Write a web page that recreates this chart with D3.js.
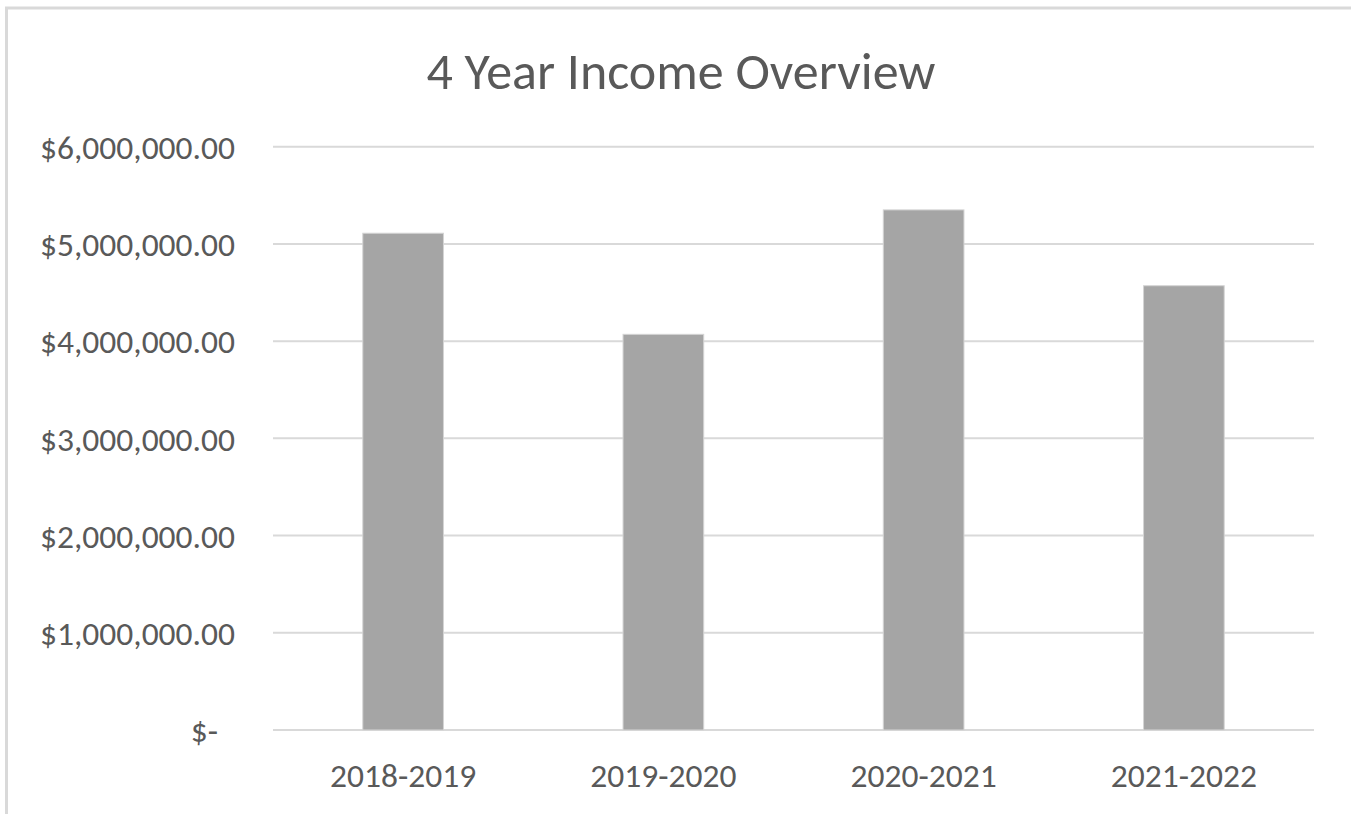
<!DOCTYPE html>
<html>
<head>
<meta charset="utf-8">
<script src="https://cdn.jsdelivr.net/npm/d3@7"></script>
<style>
  body { margin: 0; background: #fff; }
  text { font-family: Calibri, Carlito, Lato, sans-serif; fill: #595959; }
</style>
</head>
<body>
<div id="chart"></div>
<script>
// chart data
var categories = ["2018-2019", "2019-2020", "2020-2021", "2021-2022"];
var income = [5110000, 4070000, 5350000, 4570000];
var tickValues = [0, 1000000, 2000000, 3000000, 4000000, 5000000, 6000000];
var tickLabels = ["$-", "$1,000,000.00", "$2,000,000.00", "$3,000,000.00",
  "$4,000,000.00", "$5,000,000.00", "$6,000,000.00"];
var chartTitle = "4 Year Income Overview";

var svgWidth = 1351;
var svgHeight = 814;

var margin = { top: 146.7, right: 37, bottom: 84, left: 273 };
var width = svgWidth - margin.left - margin.right;
var height = svgHeight - margin.top - margin.bottom;

var svg = d3.select("#chart")
  .append("svg")
  .attr("width", svgWidth)
  .attr("height", svgHeight);

// chart frame (only top and left edges show)
svg.append("line")
  .attr("x1", 5).attr("x2", svgWidth)
  .attr("y1", 8).attr("y2", 8)
  .attr("stroke", "#d9d9d9").attr("stroke-width", 3);
svg.append("line")
  .attr("x1", 6.5).attr("x2", 6.5)
  .attr("y1", 7).attr("y2", svgHeight)
  .attr("stroke", "#d9d9d9").attr("stroke-width", 3);

svg.append("text")
  .attr("x", 681)
  .attr("y", 89)
  .attr("text-anchor", "middle")
  .style("font-size", "52px")
  .text(chartTitle);

var chartGroup = svg.append("g")
  .attr("transform", `translate(${margin.left}, ${margin.top})`);

var xScale = d3.scaleBand()
  .domain(categories)
  .range([0, width])
  .paddingInner(0.69)
  .paddingOuter(0.345);

var yScale = d3.scaleLinear()
  .domain([0, 6000000])
  .range([height, 0]);

// gridlines
chartGroup.selectAll(".grid")
  .data(tickValues)
  .enter()
  .append("line")
  .attr("class", "grid")
  .attr("x1", 0)
  .attr("x2", width)
  .attr("y1", d => yScale(d))
  .attr("y2", d => yScale(d))
  .attr("stroke", "#d9d9d9")
  .attr("stroke-width", 2);

// y axis labels
var leftAxis = d3.axisLeft(yScale)
  .tickValues(tickValues)
  .tickFormat((d, i) => tickLabels[i])
  .tickSize(0)
  .tickPadding(38);

var yAxisG = chartGroup.append("g").call(leftAxis);
yAxisG.select(".domain").remove();
yAxisG.selectAll("text")
  .attr("fill", "#595959")
  .style("font-size", "33.5px")
  .attr("dx", (d, i) => i === 0 ? -17 : 0)
  .attr("dy", "0.35em");

// x axis labels
var bottomAxis = d3.axisBottom(xScale)
  .tickSize(0)
  .tickPadding(33);

var xAxisG = chartGroup.append("g")
  .attr("transform", `translate(0, ${height})`)
  .call(bottomAxis);
xAxisG.select(".domain").remove();
xAxisG.selectAll("text")
  .attr("fill", "#595959")
  .style("font-size", "33.5px");

// bars
chartGroup.selectAll(".bar")
  .data(income)
  .enter()
  .append("rect")
  .attr("class", "bar")
  .attr("x", (d, i) => xScale(categories[i]))
  .attr("y", d => yScale(d))
  .attr("width", xScale.bandwidth())
  .attr("height", d => height - yScale(d))
  .attr("fill", "#a5a5a5")
  .attr("stroke", "#d4d4d4")
  .attr("stroke-width", 1);
</script>
</body>
</html>
